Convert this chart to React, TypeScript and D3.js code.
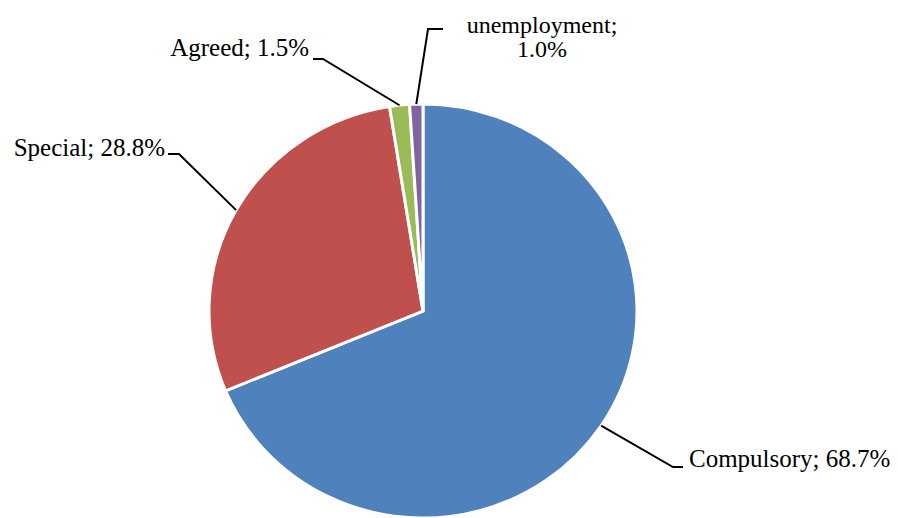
import React, { useEffect } from "react";
import * as d3 from "d3";

const categories = ["Compulsory", "Special", "Agreed", "unemployment"];
const values = [68.7, 28.8, 1.5, 1.0];
const colors = ["#4F81BD", "#C0504D", "#9BBB59", "#8064A2"];

const W = 898;
const H = 518;
const cx = 423;
const cy = 311;
const rx = 214;
const ry = 207;

// label layout: leader bend points and text anchors (layout only)
const labelLayout = [
  { bend: [[673, 467], [683, 467]], tx: 689, ty: 467, anchor: "start", lines: 1, fs: 25 },
  { bend: [[179, 154], [168, 154]], tx: 165, ty: 156, anchor: "end", lines: 1, fs: 25 },
  { bend: [[323, 59], [313, 59]], tx: 309, ty: 56, anchor: "end", lines: 1, fs: 25 },
  { bend: [[428, 29], [443, 29]], tx: 542, ty: 33, anchor: "middle", lines: 2, fs: 24 },
];

export default function App() {
  useEffect(() => {
    document.body.style.margin = "0";
  }, []);

  const pie = d3
    .pie<number>()
    .sort(null)
    .value((d) => d)
    .startAngle(0)
    .endAngle(2 * Math.PI);
  const arcs = pie(values);
  const arcGen = d3.arc<d3.PieArcDatum<number>>().innerRadius(0).outerRadius(rx);

  const fmt = (v: number) => v.toFixed(1) + "%";
  const ff = "'Liberation Serif', 'Times New Roman', serif";

  return (
    <svg width={W} height={H} style={{ display: "block", background: "#fff" }}>
      <g transform={`translate(${cx},${cy}) scale(1,${ry / rx})`}>
        {arcs.map((a, i) => (
          <path
            key={i}
            d={arcGen(a) || ""}
            fill={colors[i]}
            stroke="#fff"
            strokeWidth={3}
            strokeLinejoin="miter"
          />
        ))}
      </g>
      {arcs.map((a, i) => {
        const mid = (a.startAngle + a.endAngle) / 2;
        const sx = cx + Math.sin(mid) * rx;
        const sy = cy - Math.cos(mid) * ry;
        const L = labelLayout[i];
        const pts = [[sx, sy], ...L.bend];
        const line = d3.line()(pts as [number, number][]) || "";
        const text = `${categories[i]}; ${fmt(values[i])}`;
        return (
          <g key={"l" + i}>
            <path d={line} fill="none" stroke="#000" strokeWidth={2} />
            {L.lines === 1 ? (
              <text x={L.tx} y={L.ty} textAnchor={L.anchor as any} fontFamily={ff} fontSize={L.fs} fill="#000">
                {text}
              </text>
            ) : (
              <text x={L.tx} y={L.ty} textAnchor={L.anchor as any} fontFamily={ff} fontSize={L.fs} fill="#000">
                <tspan x={L.tx} dy={0}>{categories[i] + ";"}</tspan>
                <tspan x={L.tx} dy={24}>{fmt(values[i])}</tspan>
              </text>
            )}
          </g>
        );
      })}
    </svg>
  );
}
